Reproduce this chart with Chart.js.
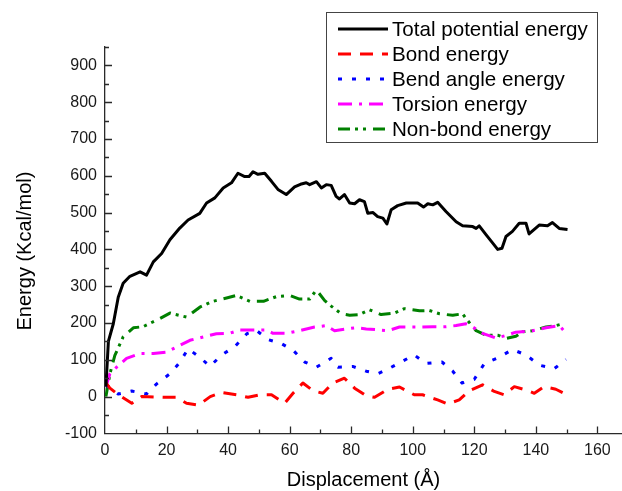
<!DOCTYPE html>
<html>
<head>
<meta charset="utf-8">
<script src="https://cdn.jsdelivr.net/npm/chart.js@4.4.1/dist/chart.umd.min.js"></script>
<style>
  html, body { margin: 0; padding: 0; background: #fff; }
</style>
</head>
<body>
<canvas id="energy" width="622" height="491"></canvas>
<script>
"use strict";

// values (displacement in Å, energy in Kcal/mol)
const totalX = [0.3, 1.1, 2.7, 4.3, 5.9, 8.1, 11.4, 13.5, 15.7, 18.4, 21.1, 24.3, 27, 30.8, 33, 35.7, 38.4, 41.1, 43.2, 45.4, 46.8, 48.1, 49.7, 51.9, 54.1, 56.2, 58.9, 61.6, 63.5, 65.4, 66.5, 68.7, 70.3, 71.9, 73.5, 75.1, 76.2, 77.8, 79.5, 81.1, 82.7, 84.3, 85.4, 87.1, 88.6, 90.3, 91.6, 93, 95.1, 97.9, 101.6, 103.5, 104.9, 106.5, 108.1, 110.8, 114.1, 116.2, 119.5, 120.6, 121.6, 123.8, 126, 127.6, 129, 130.3, 132.4, 134.6, 136.8, 137.8, 141.1, 143.8, 145.4, 147.6, 150.3];
const totalY = [27, 150, 198, 270, 308, 327, 339, 330, 366, 389, 426, 458, 480, 498, 526, 540, 567, 581, 607, 598, 598, 611, 604, 607, 585, 563, 549, 570, 577, 581, 576, 584, 567, 576, 574, 544, 537, 549, 526, 524, 535, 530, 498, 500, 489, 485, 469, 508, 519, 526, 526, 515, 524, 521, 528, 503, 475, 464, 462, 457, 464, 440, 417, 400, 403, 435, 449, 471, 471, 442, 466, 464, 473, 457, 454];

const bondX = [0.3, 1.6, 4.3, 8.7, 11.9, 18.9, 23.2, 26.5, 30.4, 34.2, 37.9, 42.7, 46.5, 50.3, 54.1, 58.4, 61.1, 64.3, 67.6, 70.8, 74, 77.8, 81.1, 84.9, 87.6, 91.9, 95.7, 100.5, 103.2, 108.1, 111.4, 115.1, 118.4, 122.7, 126.5, 129.7, 133, 136.8, 139.5, 142.7, 146.5, 149.2, 150.3];
const bondY = [37, 23, 5, -18, 0, -2, -2, -18, -23, 0, 11, 5, -2, 5, 5, -18, 9, 37, 16, 9, 37, 50, 23, 2, -2, 20, 26, 5, 5, -9, -20, -9, 16, 32, 14, 5, 27, 18, 9, 27, 20, 9, 23];

const bendX = [0.3, 4.3, 8.7, 13.5, 16.7, 21.1, 24.3, 27, 30.8, 34.1, 37.9, 42.2, 46.1, 49.2, 53, 57.3, 61.1, 64.9, 68.7, 73.5, 75.7, 80.5, 84.9, 88.6, 92.2, 96.2, 100.5, 104.3, 109.5, 113, 116, 120, 123.3, 127.9, 132.4, 136.8, 141.3, 146, 149.8];
const bendY = [32, 7, 15, 7, 34, 62, 93, 130, 107, 82, 113, 136, 171, 180, 155, 144, 126, 94, 80, 104, 80, 82, 69, 62, 76, 94, 113, 90, 94, 69, 37, 47, 90, 106, 128, 113, 85, 76, 101];

const torsionX = [0.3, 1.6, 3.8, 7, 11.4, 15.7, 20, 23.3, 27.6, 31.9, 36.2, 40.5, 43.8, 48.1, 52.4, 54.6, 58.9, 63.2, 68.1, 71.9, 74.6, 78.4, 81.6, 84.9, 89.2, 91.9, 95.7, 101.1, 106.5, 110.8, 114.1, 117.3, 119.5, 122.7, 127.1, 130.3, 133.5, 138.9, 143.3, 147.6, 148.9];
const torsionY = [27, 62, 80, 104, 117, 117, 121, 135, 153, 162, 171, 172, 181, 181, 181, 172, 172, 179, 189, 193, 179, 184, 187, 184, 181, 179, 189, 189, 190, 190, 193, 198, 189, 172, 159, 166, 175, 179, 187, 193, 181];

const nonbondX = [0.3, 1.6, 3.2, 5.9, 9.2, 12.4, 17.8, 21.1, 26.5, 30.8, 35.1, 39.5, 42.7, 47.1, 51.5, 55.8, 60, 63.2, 66.5, 68.7, 71.4, 73.5, 76.8, 79.5, 82.7, 85.9, 89.7, 94.1, 97.3, 102.2, 105.4, 108.7, 113, 116.2, 117.3, 120.6, 123.8, 127.6, 130.3, 133.5, 135.7, 138.9, 143.3, 146.5, 148.9];
const nonbondY = [0, 62, 112, 162, 187, 190, 212, 227, 216, 243, 259, 268, 275, 259, 259, 272, 275, 265, 265, 290, 261, 246, 225, 221, 223, 236, 223, 227, 239, 233, 234, 225, 221, 225, 212, 179, 167, 167, 158, 164, 176, 179, 189, 193, 198];

const seriesNames = ["Total potential energy", "Bond energy", "Bend angle energy", "Torsion energy", "Non-bond energy"];
const xTickValues = [0, 20, 40, 60, 80, 100, 120, 140, 160];
const yTickValues = [-100, 0, 100, 200, 300, 400, 500, 600, 700, 800, 900];
const yTitle = "Energy (Kcal/mol)";
const xTitle = "Displacement (Å)";

const fontFamily = "'Liberation Sans', Arial, sans-serif";
const axisColor = "#2a2a2a";
const textColor = "#1a1a1a";

const toPoints = (xs, ys) => xs.map((x, i) => ({x: x, y: ys[i]}));

const lineSet = (label, xs, ys, color, dash) => ({
    label: label,
    data: toPoints(xs, ys),
    borderColor: color,
    backgroundColor: color,
    borderWidth: 3,
    borderDash: dash,
    borderCapStyle: "butt",
    borderJoinStyle: "round",
    pointRadius: 0,
    tension: 0,
    fill: false,
});

// small ticks drawn on the inner side of the axes, like the original plot
const innerTicks = {
    id: "innerTicks",
    afterDraw(chart) {
        const {ctx, scales: {x, y}} = chart;
        ctx.save();
        ctx.strokeStyle = axisColor;
        ctx.lineWidth = 1.3;
        ctx.beginPath();
        for (let i = 0; i < yTickValues.length; i++) {
            const v = yTickValues[i];
            if (v > y.min) {
                const py = Math.round(y.getPixelForValue(v)) + 0.5;
                ctx.moveTo(x.left, py);
                ctx.lineTo(x.left + 7, py);
            }
            const hp = Math.round(y.getPixelForValue(v + 50)) + 0.5;
            ctx.moveTo(x.left, hp);
            ctx.lineTo(x.left + 4, hp);
        }
        for (let i = 0; i < xTickValues.length; i++) {
            const v = xTickValues[i];
            if (v > x.min) {
                const px = Math.round(x.getPixelForValue(v)) + 0.5;
                ctx.moveTo(px, y.bottom);
                ctx.lineTo(px, y.bottom - 7);
            }
            if (i > 0) {
                const hp = Math.round(x.getPixelForValue(v - 10)) + 0.5;
                ctx.moveTo(hp, y.bottom);
                ctx.lineTo(hp, y.bottom - 4);
            }
        }
        ctx.stroke();

        // vertical axis title sits a bit below the middle of the axis
        ctx.translate(25, 251);
        ctx.rotate(-Math.PI / 2);
        ctx.font = "20px " + fontFamily;
        ctx.fillStyle = "#000";
        ctx.textAlign = "center";
        ctx.textBaseline = "middle";
        ctx.fillText(yTitle, 0, 0);
        ctx.restore();
    },
};

// boxed legend in the upper right corner
const boxLegend = {
    id: "boxLegend",
    afterDraw(chart) {
        const ctx = chart.ctx;
        ctx.save();
        ctx.strokeStyle = "#444";
        ctx.lineWidth = 1;
        ctx.strokeRect(326.5, 12.5, 271, 130);
        ctx.font = "20.6px " + fontFamily;
        ctx.textBaseline = "middle";
        ctx.fillStyle = "#000";
        chart.data.datasets.forEach((ds, i) => {
            const cy = 29 + i * 25;
            ctx.beginPath();
            ctx.strokeStyle = ds.borderColor;
            ctx.lineWidth = 3;
            ctx.setLineDash(ds.borderDash);
            ctx.moveTo(338, cy);
            ctx.lineTo(388, cy);
            ctx.stroke();
            ctx.setLineDash([]);
            ctx.fillText(ds.label, 392, cy + 1);
        });
        ctx.restore();
    },
};

new Chart(document.getElementById("energy"), {
    type: "line",
    data: {
        datasets: [
            lineSet(seriesNames[0], totalX, totalY, "#000000", []),
            lineSet(seriesNames[1], bondX, bondY, "#ff0000", [13, 9]),
            lineSet(seriesNames[2], bendX, bendY, "#0000ff", [4, 10]),
            lineSet(seriesNames[3], torsionX, torsionY, "#ff00ff", [14, 7, 3, 7]),
            lineSet(seriesNames[4], nonbondX, nonbondY, "#008000", [12, 5, 3, 5, 3, 7]),
        ],
    },
    options: {
        responsive: false,
        animation: false,
        devicePixelRatio: 1,
        layout: {
            padding: {top: 47, right: 0, bottom: 0, left: 0},
        },
        plugins: {
            legend: {display: false},
            tooltip: {enabled: false},
        },
        scales: {
            x: {
                type: "linear",
                min: 0,
                max: 168,
                afterBuildTicks: (scale) => {
                    scale.ticks = xTickValues.map(v => ({value: v}));
                },
                afterFit: (scale) => {
                    scale.height = 57.6;
                },
                grid: {display: false, drawTicks: false},
                border: {display: true, color: axisColor, width: 1.3},
                ticks: {
                    padding: 8,
                    color: textColor,
                    autoSkip: false,
                    maxRotation: 0,
                    font: {size: 16, family: fontFamily},
                },
                title: {
                    display: true,
                    text: xTitle,
                    color: "#000",
                    font: {size: 20, family: fontFamily},
                    padding: {top: 0, bottom: -1},
                },
            },
            y: {
                type: "linear",
                min: -100,
                max: 950,
                afterBuildTicks: (scale) => {
                    scale.ticks = yTickValues.map(v => ({value: v}));
                },
                afterFit: (scale) => {
                    scale.width = 105;
                },
                grid: {display: false, drawTicks: false},
                border: {display: true, color: axisColor, width: 1.3},
                ticks: {
                    padding: 8,
                    color: textColor,
                    autoSkip: false,
                    font: {size: 16, family: fontFamily},
                },
            },
        },
    },
    plugins: [innerTicks, boxLegend],
});
</script>
</body>
</html>
